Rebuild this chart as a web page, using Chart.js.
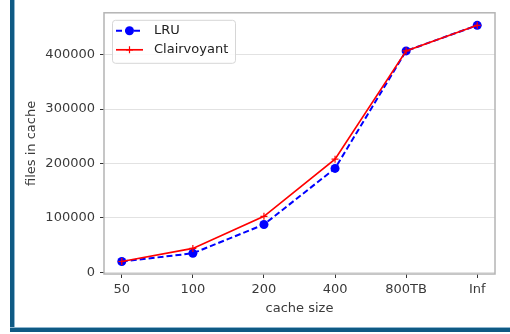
<!DOCTYPE html>
<html>
<head>
<meta charset="utf-8">
<script src="https://cdn.jsdelivr.net/npm/chart.js@4/dist/chart.umd.min.js"></script>
<style>
  html, body { margin: 0; padding: 0; background: #fff; }
  #wrap { position: relative; width: 510px; height: 334px; overflow: hidden; }
  #chart { position: absolute; left: 0; top: 0; }
  .edge { position: absolute; background: #0f5a84; }
  .edge.left { left: 10px; top: 0; width: 4px; height: 332px; box-shadow: 1px 0 0 #8fb6cf; }
  .edge.bottom { left: 10px; top: 328px; width: 500px; height: 4px; box-shadow: 0 -1px 0 #8fb6cf; }
</style>
</head>
<body>
<div id="wrap">
  <canvas id="chart" width="510" height="334"></canvas>
  <div class="edge left"></div>
  <div class="edge bottom"></div>
</div>
<script>
const cacheSizes = ["50", "100", "200", "400", "800TB", "Inf"];
const lruFiles = [20000, 35000, 88000, 191000, 407000, 454000];
const clairvoyantFiles = [20000, 44000, 103000, 208000, 407000, 454000];
const yTicks = [0, 100000, 200000, 300000, 400000];

const FONT = { family: "DejaVu Sans", size: 13 };
const txt = "#3a3a3a";

const pts = (arr) => arr.map((v, i) => ({ x: i, y: v }));

// matplotlib-ish frame + legend in the upper left
const framePlugin = {
  id: "frame",
  afterDraw(chart) {
    const { ctx, chartArea: a } = chart;
    ctx.save();
    ctx.strokeStyle = "#b4b4b4";
    ctx.lineWidth = 1.5;
    ctx.strokeRect(a.left, a.top, a.right - a.left, a.bottom - a.top);

    const bx = a.left + 8, by = a.top + 7, bw = 123, bh = 43;
    ctx.fillStyle = "rgba(255,255,255,0.85)";
    ctx.strokeStyle = "#d6d6d6";
    ctx.lineWidth = 1;
    ctx.beginPath();
    ctx.roundRect(bx + 0.5, by + 0.5, bw, bh, 3);
    ctx.fill();
    ctx.stroke();

    ctx.font = `${FONT.size}px ${FONT.family}`;
    ctx.textBaseline = "middle";
    chart.data.datasets.forEach((ds, i) => {
      const y = by + 11 + i * 19;
      const x0 = bx + 4, x1 = bx + 31, xm = (x0 + x1) / 2;
      ctx.strokeStyle = ds.borderColor;
      ctx.lineWidth = ds.borderWidth;
      ctx.setLineDash(ds.borderDash || []);
      ctx.beginPath();
      ctx.moveTo(x0, y);
      ctx.lineTo(x1, y);
      ctx.stroke();
      ctx.setLineDash([]);
      if (ds.pointStyle === "circle") {
        ctx.fillStyle = ds.pointBackgroundColor;
        ctx.beginPath();
        ctx.arc(xm, y, ds.pointRadius, 0, Math.PI * 2);
        ctx.fill();
      } else {
        ctx.lineWidth = ds.pointBorderWidth;
        ctx.beginPath();
        ctx.moveTo(xm, y - ds.pointRadius);
        ctx.lineTo(xm, y + ds.pointRadius);
        ctx.moveTo(xm - ds.pointRadius, y);
        ctx.lineTo(xm + ds.pointRadius, y);
        ctx.stroke();
      }
      ctx.fillStyle = "#222";
      ctx.fillText(ds.label, bx + 42, y);
    });
    ctx.restore();
  },
};

new Chart(document.getElementById("chart"), {
  type: "line",
  data: {
    datasets: [
      {
        label: "LRU",
        data: pts(lruFiles),
        borderColor: "#0000ff",
        backgroundColor: "#0000ff",
        borderWidth: 2,
        borderDash: [6, 3],
        pointStyle: "circle",
        pointRadius: 4.5,
        pointBackgroundColor: "#0000ff",
        pointBorderColor: "#0000ff",
        pointBorderWidth: 0,
        tension: 0,
        order: 2,
      },
      {
        label: "Clairvoyant",
        data: pts(clairvoyantFiles),
        borderColor: "#ff0000",
        backgroundColor: "#ff0000",
        borderWidth: 1.7,
        pointStyle: "cross",
        pointRadius: 3.5,
        pointBorderColor: "#ff0000",
        pointBorderWidth: 1.2,
        tension: 0,
        order: 1,
      },
    ],
  },
  options: {
    responsive: false,
    animation: false,
    events: [],
    layout: { padding: { left: 20, top: 9, right: 15, bottom: 14 } },
    plugins: { legend: { display: false }, tooltip: { enabled: false } },
    scales: {
      x: {
        type: "linear",
        min: -0.25,
        max: 5.25,
        afterBuildTicks: (s) => { s.ticks = cacheSizes.map((_, i) => ({ value: i })); },
        afterFit: (s) => { s.height = 46; },
        ticks: {
          callback: (v) => cacheSizes[v],
          font: FONT,
          color: txt,
          padding: 4,
          maxRotation: 0,
        },
        grid: { drawOnChartArea: false, drawTicks: true, tickLength: 4, tickColor: "#333" },
        border: { display: false },
        title: { display: true, text: "cache size", font: FONT, color: txt, padding: { top: 4, bottom: 4 } },
      },
      y: {
        min: -3000,
        max: 477000,
        afterBuildTicks: (s) => { s.ticks = yTicks.map((v) => ({ value: v })); },
        afterFit: (s) => { s.width = 84; },
        ticks: {
          callback: (v) => String(v),
          font: FONT,
          color: txt,
          padding: 5,
        },
        grid: { color: "#e2e2e2", lineWidth: 1, tickLength: 4, tickColor: "#333" },
        border: { display: false },
        title: { display: true, text: "files in cache", font: FONT, color: txt, padding: { top: 4, bottom: 4 } },
      },
    },
  },
  plugins: [framePlugin],
});
</script>
</body>
</html>
